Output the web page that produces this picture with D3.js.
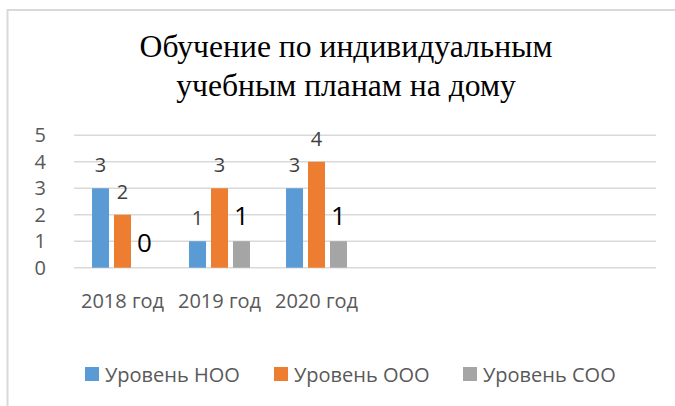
<!DOCTYPE html>
<html>
<head>
<meta charset="utf-8">
<script src="https://cdn.jsdelivr.net/npm/d3@7"></script>
<style>
  body { margin: 0; background: #fff; }
</style>
</head>
<body>
<div id="chart"></div>
<script>
const categories = ['2018 год', '2019 год', '2020 год'];
const seriesNames = ['Уровень НОО', 'Уровень ООО', 'Уровень СОО'];
const nooValues = [3, 1, 3];
const oooValues = [2, 3, 4];
const sooValues = [0, 1, 1];
const yTicks = [0, 1, 2, 3, 4, 5];
const titleLines = ['Обучение по индивидуальным', 'учебным планам на дому'];

const colors = ['#5b9bd5', '#ed7d31', '#a5a5a5'];
const seriesValues = [nooValues, oooValues, sooValues];

const width = 675, height = 406;
const plot = { left: 74, right: 656, top: 135.3, bottom: 267.7 };
const sans = "'Open Sans', sans-serif";

const svg = d3.select('#chart').append('svg')
    .attr('width', width)
    .attr('height', height);

// chart frame (runs off the page on the right and bottom)
svg.append('rect')
    .attr('x', 7.5).attr('y', 10)
    .attr('width', 720).attr('height', 440)
    .attr('fill', 'none')
    .attr('stroke', '#d9d9d9')
    .attr('stroke-width', 2);

// title, one text per line, sized so the first line is ~413px wide
const titles = svg.selectAll('.title')
    .data(titleLines)
    .join('text')
    .attr('class', 'title')
    .attr('x', 346)
    .attr('y', (d, i) => 57 + i * 39)
    .attr('text-anchor', 'middle')
    .attr('font-size', 30)
    .attr('fill', '#000')
    .style('font-family', "'Liberation Serif', 'DejaVu Serif', serif")
    .text(d => d);

const w0 = titles.node().getComputedTextLength();
titles.attr('font-size', 30 * 413 / w0);

const y = d3.scaleLinear().domain([0, 5]).range([plot.bottom, plot.top]);

// three categories take the left half of the plot width
const step = (plot.right - plot.left) / 6;
const x0 = d3.scaleBand()
    .domain(categories)
    .range([plot.left, plot.left + step * categories.length]);

const x1 = d3.scaleBand()
    .domain(seriesNames)
    .range([0, x0.bandwidth()])
    .paddingInner(0.227)
    .paddingOuter(0.82);

// gridlines
svg.append('g')
    .selectAll('line')
    .data(yTicks)
    .join('line')
    .attr('x1', plot.left).attr('x2', plot.right)
    .attr('y1', d => y(d)).attr('y2', d => y(d))
    .attr('stroke', '#d9d9d9')
    .attr('stroke-width', 1.5);

// y axis labels
const yAxis = d3.axisLeft(y).tickValues(yTicks).tickFormat(d3.format('d')).tickSize(0).tickPadding(0);
const yAxisG = svg.append('g')
    .attr('transform', `translate(46, 0)`)
    .call(yAxis);
yAxisG.select('.domain').remove();
yAxisG.selectAll('text')
    .style('font-family', sans)
    .attr('font-size', 20)
    .attr('fill', '#595959');

// x axis labels
const xAxis = d3.axisBottom(x0).tickSize(0).tickPadding(0);
const xAxisG = svg.append('g')
    .attr('transform', `translate(0, 294)`)
    .call(xAxis);
xAxisG.select('.domain').remove();
xAxisG.selectAll('text')
    .style('font-family', sans)
    .attr('font-size', 20)
    .attr('fill', '#595959');

// bars
const rows = seriesNames.map((name, s) => categories.map((cat, c) => ({
    series: name, s, cat, value: seriesValues[s][c]
})));

const groups = svg.append('g')
    .selectAll('g')
    .data(rows)
    .join('g')
    .attr('fill', (d, i) => colors[i]);

groups.selectAll('rect')
    .data(d => d)
    .join('rect')
    .attr('x', d => x0(d.cat) + x1(d.series))
    .attr('y', d => y(d.value))
    .attr('width', x1.bandwidth())
    .attr('height', d => y(0) - y(d.value));

// data labels
groups.selectAll('text')
    .data(d => d)
    .join('text')
    .style('font-family', sans)
    .attr('x', d => x0(d.cat) + x1(d.series) + x1.bandwidth() / 2)
    .attr('y', d => y(d.value) - 16)
    .attr('text-anchor', 'middle')
    .attr('font-size', d => d.s === 2 ? 26 : 20)
    .attr('fill', d => d.s === 2 ? '#000' : '#404040')
    .text(d => d.value);

// legend
const legendX = [85, 274, 463];
const legend = svg.append('g')
    .selectAll('g')
    .data(seriesNames)
    .join('g')
    .attr('transform', (d, i) => `translate(${legendX[i]}, 367)`);

legend.append('rect')
    .attr('width', 14).attr('height', 14)
    .attr('fill', (d, i) => colors[i]);

legend.append('text')
    .style('font-family', sans)
    .attr('x', 20)
    .attr('y', 14.5)
    .attr('font-size', 20)
    .attr('fill', '#595959')
    .text(d => d);
</script>
</body>
</html>
